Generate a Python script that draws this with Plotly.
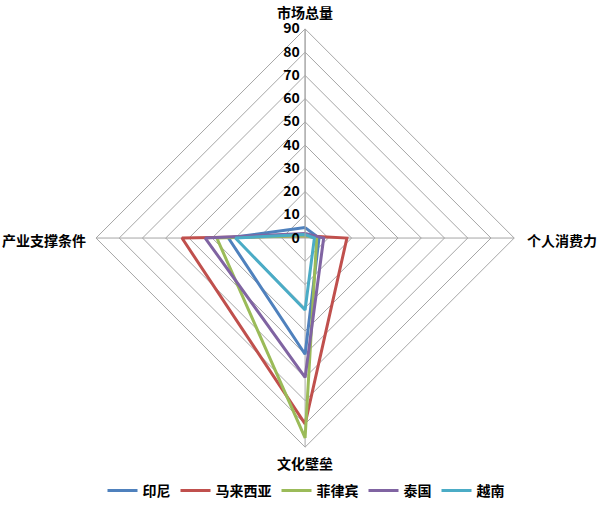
import plotly.graph_objects as go

axes = ["市场总量", "个人消费力", "文化壁垒", "产业支撑条件"]
series_names = ["印尼", "马来西亚", "菲律宾", "泰国", "越南"]
indonesia = [4.5, 6, 50, 33]
malaysia = [1, 18, 80, 53]
philippines = [1, 5, 86, 38]
thailand = [2, 8, 60, 43]
vietnam = [1.5, 4, 31, 30]
colors = ["#4f81bd", "#c0504d", "#9bbb59", "#8064a2", "#4bacc6"]
radial_ticks = [0, 10, 20, 30, 40, 50, 60, 70, 80, 90]

data = [indonesia, malaysia, philippines, thailand, vietnam]
font_family = "Noto Sans CJK SC, sans-serif"
W, H = 600, 507

fig = go.Figure()
for name, vals, col in zip(series_names, data, colors):
    fig.add_trace(go.Scatterpolar(
        r=vals + [vals[0]],
        theta=axes + [axes[0]],
        mode="lines",
        name=name,
        line=dict(color=col, width=3),
    ))

# category labels placed around the chart (pixel positions converted to paper)
label_pos = [
    (305, 12, "center"),
    (526, 240, "left"),
    (305, 463, "center"),
    (87, 240, "right"),
]
for text, (px, py, anchor) in zip(axes, label_pos):
    fig.add_annotation(
        x=px / W, y=1 - py / H, xref="paper", yref="paper",
        text=text, showarrow=False, xanchor=anchor, yanchor="middle",
        borderpad=0,
        font=dict(size=14, color="#000000", family=font_family, weight="bold"),
    )

fig.update_layout(
    width=W, height=H,
    margin=dict(l=0, r=0, t=0, b=0),
    paper_bgcolor="white",
    font=dict(family=font_family, color="#000000", size=13),
    polar=dict(
        domain=dict(x=[0.16, 0.857], y=[0.118, 0.943]),
        bgcolor="white",
        gridshape="linear",
        angularaxis=dict(
            direction="clockwise",
            rotation=90,
            categoryorder="array",
            categoryarray=axes,
            showline=True,
            linecolor="#a6a6a6",
            linewidth=1,
            gridcolor="#a6a6a6",
            gridwidth=1,
            ticks="",
            showticklabels=False,
        ),
        radialaxis=dict(
            range=[0, 90],
            tickvals=radial_ticks,
            ticktext=[str(t) for t in radial_ticks],
            angle=90,
            tickangle=90,
            side="counterclockwise",
            showline=True,
            linecolor="#a6a6a6",
            gridcolor="#a6a6a6",
            gridwidth=1,
            ticks="",
            tickfont=dict(size=14, color="#000000", family=font_family, weight="bold"),
        ),
    ),
    showlegend=True,
    legend=dict(
        orientation="h",
        x=0.51, xanchor="center",
        y=0.0, yanchor="bottom",
        font=dict(size=14, color="#000000", family=font_family, weight="bold"),
        itemwidth=30,
        tracegroupgap=0,
    ),
)

fig.write_html("out.html", config={"displayModeBar": False},
               post_script="document.body.style.margin='0';")
